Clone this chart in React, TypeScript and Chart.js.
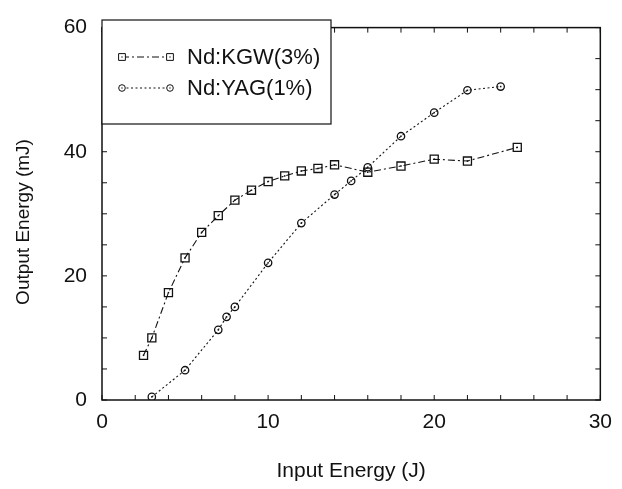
import React, { useEffect, useRef } from 'react';
import { Chart, registerables } from 'chart.js';

Chart.register(...registerables);

// ---- data ----
const kgwX = [2.5, 3, 4, 5, 6, 7, 8, 9, 10, 11, 12, 13, 14, 16, 18, 20, 22, 25];
const kgwY = [7.2, 10.0, 17.3, 22.9, 27.0, 29.7, 32.2, 33.8, 35.2, 36.1, 36.9, 37.3, 37.9, 36.7, 37.7, 38.8, 38.5, 40.7];
const yagX = [3, 5, 7, 7.5, 8, 10, 12, 14, 15, 16, 18, 20, 22, 24];
const yagY = [0.5, 4.8, 11.3, 13.4, 15.0, 22.1, 28.5, 33.1, 35.3, 37.5, 42.5, 46.3, 49.9, 50.5];
const seriesLabels = ['Nd:KGW(3%)', 'Nd:YAG(1%)'];
const xTickValues = [0, 10, 20, 30];
const yTickValues = [0, 20, 40, 60];
const xMinorStep = 2;
const yMinorStep = 5;
const xTitle = 'Input Energy (J)';
const yTitle = 'Output Energy (mJ)';

const FONT = '"Liberation Sans", Arial, Helvetica, sans-serif';
const INK = '#111';

const framePlugin = {
  id: 'frame',
  afterDatasetsDraw(chart: any) {
    const { ctx, chartArea: a, scales } = chart;
    ctx.save();
    // centre dots of the markers
    ctx.fillStyle = INK;
    chart.data.datasets.forEach((_: any, i: number) => {
      chart.getDatasetMeta(i).data.forEach((pt: any) => {
        ctx.fillRect(pt.x - 0.75, pt.y - 0.75, 1.5, 1.5);
      });
    });
    ctx.strokeStyle = INK;
    ctx.lineWidth = 1.5;
    ctx.setLineDash([]);
    ctx.strokeRect(a.left, a.top, a.right - a.left, a.bottom - a.top);
    ctx.lineWidth = 1;
    const L = 5;
    const xs = scales.x, ys = scales.y;
    for (let v = xs.min; v <= xs.max + 1e-9; v += xMinorStep) {
      const p = xs.getPixelForValue(v);
      ctx.beginPath();
      ctx.moveTo(p, a.bottom); ctx.lineTo(p, a.bottom - L);
      ctx.moveTo(p, a.top); ctx.lineTo(p, a.top + L);
      ctx.stroke();
    }
    for (let v = ys.min; v <= ys.max + 1e-9; v += yMinorStep) {
      const p = ys.getPixelForValue(v);
      ctx.beginPath();
      ctx.moveTo(a.left, p); ctx.lineTo(a.left + L, p);
      ctx.moveTo(a.right, p); ctx.lineTo(a.right - L, p);
      ctx.stroke();
    }
    ctx.restore();
  },
};

function drawMarker(ctx: CanvasRenderingContext2D, style: string, x: number, y: number, r: number) {
  ctx.beginPath();
  if (style === 'rect') {
    const s = Math.SQRT1_2 * r;
    ctx.rect(x - s, y - s, 2 * s, 2 * s);
  } else {
    ctx.arc(x, y, r, 0, Math.PI * 2);
  }
  ctx.stroke();
}

const legendPlugin = {
  id: 'boxLegend',
  afterDraw(chart: any) {
    const { ctx, chartArea: a } = chart;
    ctx.save();
    const left = a.left, top = 20, right = 331, bottom = 124;
    ctx.fillStyle = '#fff';
    ctx.fillRect(left, top, right - left, bottom - top);
    ctx.strokeStyle = INK;
    ctx.lineWidth = 1.2;
    ctx.setLineDash([]);
    ctx.strokeRect(left, top, right - left, bottom - top);
    const rows = [57, 88];
    chart.data.datasets.forEach((ds: any, i: number) => {
      const y = rows[i];
      const x1 = 122, x2 = 170;
      ctx.strokeStyle = ds.borderColor;
      ctx.lineWidth = ds.borderWidth;
      ctx.setLineDash(ds.borderDash || []);
      ctx.beginPath();
      ctx.moveTo(x1, y); ctx.lineTo(x2, y);
      ctx.stroke();
      ctx.setLineDash([]);
      ctx.lineWidth = 1;
      ctx.fillStyle = '#fff';
      const r = ds.pointStyle === 'rect' ? 4.8 : 3.3;
      [x1, x2].forEach((x) => {
        ctx.beginPath();
        if (ds.pointStyle === 'rect') {
          const s = Math.SQRT1_2 * r;
          ctx.fillRect(x - s, y - s, 2 * s, 2 * s);
        } else {
          ctx.arc(x, y, r, 0, Math.PI * 2);
          ctx.fill();
        }
        drawMarker(ctx, ds.pointStyle, x, y, r);
        ctx.fillStyle = INK;
        ctx.fillRect(x - 0.6, y - 0.6, 1.2, 1.2);
        ctx.fillStyle = '#fff';
      });
      ctx.fillStyle = INK;
      ctx.font = `22px ${FONT}`;
      ctx.textAlign = 'left';
      ctx.textBaseline = 'middle';
      ctx.fillText(ds.label, 187, y + 1);
    });
    ctx.restore();
  },
};

const yTitlePlugin = {
  id: 'yTitle',
  afterDraw(chart: any) {
    const { ctx } = chart;
    ctx.save();
    ctx.translate(24, 222);
    ctx.rotate(-Math.PI / 2);
    ctx.fillStyle = INK;
    ctx.font = `19px ${FONT}`;
    ctx.textAlign = 'center';
    ctx.textBaseline = 'middle';
    ctx.fillText(yTitle, 0, 0);
    ctx.restore();
  },
};

export default function App() {
  const ref = useRef<HTMLCanvasElement | null>(null);

  useEffect(() => {
    if (!ref.current) return;
    const chart = new Chart(ref.current, {
      type: 'scatter',
      data: {
        datasets: [
          {
            label: seriesLabels[0],
            data: kgwX.map((x, i) => ({ x, y: kgwY[i] })),
            showLine: true,
            borderColor: INK,
            borderWidth: 1.1,
            borderDash: [7, 3, 2, 3],
            pointStyle: 'rect',
            pointRadius: 5.7,
            pointBorderWidth: 1.3,
            pointBackgroundColor: 'rgba(255,255,255,0)',
            pointBorderColor: INK,
          },
          {
            label: seriesLabels[1],
            data: yagX.map((x, i) => ({ x, y: yagY[i] })),
            showLine: true,
            borderColor: INK,
            borderWidth: 1.1,
            borderDash: [2, 2.5],
            pointStyle: 'circle',
            pointRadius: 3.7,
            pointBorderWidth: 1.3,
            pointBackgroundColor: 'rgba(255,255,255,0)',
            pointBorderColor: INK,
          },
        ],
      },
      options: {
        responsive: false,
        animation: false,
        layout: { padding: { top: 16, right: 19, left: 0, bottom: 0 } },
        plugins: {
          legend: { display: false },
          tooltip: { enabled: false },
        },
        scales: {
          x: {
            type: 'linear',
            min: 0,
            max: 30,
            afterBuildTicks: (s: any) => { s.ticks = xTickValues.map((v) => ({ value: v })); },
            afterFit: (s: any) => { s.height = 89; },
            grid: { display: false, drawTicks: false },
            border: { display: false },
            ticks: {
              color: INK,
              font: { family: FONT, size: 21 },
              padding: 10,
              maxRotation: 0,
            },
            title: {
              display: true,
              text: xTitle,
              color: INK,
              font: { family: FONT, size: 21 },
              padding: { top: 0, bottom: 5 },
            },
          },
          y: {
            type: 'linear',
            min: 0,
            max: 60,
            afterBuildTicks: (s: any) => { s.ticks = yTickValues.map((v) => ({ value: v })); },
            afterFit: (s: any) => { s.width = 102; },
            grid: { display: false, drawTicks: false },
            border: { display: false },
            ticks: {
              color: INK,
              font: { family: FONT, size: 21 },
              padding: 15,
            },
          },
        },
      },
      plugins: [framePlugin, legendPlugin, yTitlePlugin],
    } as any);
    return () => chart.destroy();
  }, []);

  return (
    <div style={{ position: 'fixed', left: 0, top: 0, width: 622, height: 489, background: '#fff' }}>
      <canvas ref={ref} width={622} height={489} style={{ display: 'block', width: 622, height: 489 }} />
    </div>
  );
}
